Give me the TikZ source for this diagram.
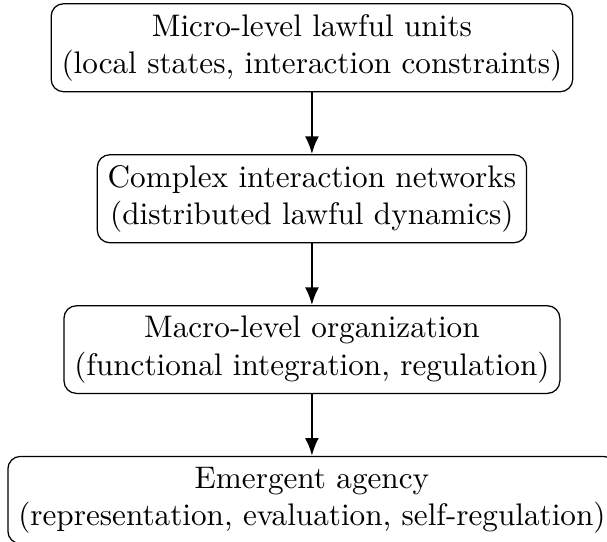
\documentclass[tikz,border=0pt]{standalone}
\usetikzlibrary{positioning,arrows.meta}
\begin{document}
\begin{tikzpicture}[
  level/.style={draw, rounded corners=4pt, align=center, inner sep=3.33pt, line width=0.4pt},
  flow/.style={-{Latex[length=5.7pt,width=4.5pt]}, line width=0.75pt},
  node distance=19.8pt
]
\useasboundingbox (-100pt,-172.6pt) rectangle (94.6pt,1pt);
\node[level, anchor=north] (micro) at (0,0) {Micro-level lawful units\\(local states, interaction constraints)};
\node[level, below=of micro] (net) {Complex interaction networks\\(distributed lawful dynamics)};
\node[level, below=of net] (macro) {Macro-level organization\\(functional integration, regulation)};
\node[level, below=of macro] (agency) {Emergent agency\\(representation, evaluation, self-regulation)};
\draw[flow] (micro) -- (net);
\draw[flow] (net) -- (macro);
\draw[flow] (macro) -- (agency);
\end{tikzpicture}
\end{document}
